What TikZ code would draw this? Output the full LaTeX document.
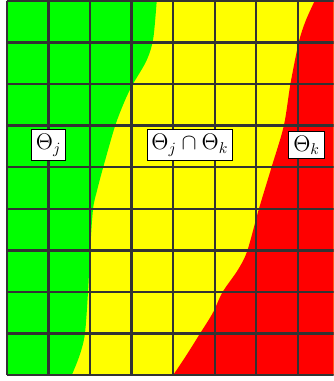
\documentclass[tikz,border=0pt]{standalone}

\definecolor{regj}{RGB}{0, 255, 0}
\definecolor{regjk}{RGB}{255, 255, 0}
\definecolor{regk}{RGB}{255, 0, 0}
\definecolor{gridedge}{RGB}{51, 51, 51}

\begin{document}
\begin{tikzpicture}[font=\Large,
    lbl/.style={draw=black, fill=white, line width=0.65pt, inner sep=2.8pt, scale=1.07}]
        \def\R{9}
        \def\C{8}
        \useasboundingbox (-0.168,-0.144) rectangle (7.861,9.024);
        \clip (-0.168,-0.144) rectangle (7.861,9.024);

        % Regions
        \fill[regjk] (0,0) rectangle (\C,\R);
        \fill[regj] (0,0) -- plot[smooth] coordinates {(1.56,0) (1.75,0.48) (1.875,0.99) (1.95,2.0) (2.0,2.98) (2.07,3.99) (2.17,4.45) (2.31,4.98) (2.60,5.99) (2.84,6.61) (3.03,7.0) (3.36,7.57) (3.52,8.1) (3.61,9.1)} -- (0,9.1) -- cycle;
        \fill[regk] (\C,0) -- plot[smooth] coordinates {(4.0,0) (4.32,0.48) (4.64,0.99) (4.95,1.49) (5.19,2.0) (5.55,2.52) (5.78,2.98) (6.06,3.99) (6.36,4.98) (6.66,5.99) (6.82,7.0) (7.02,8.0) (7.19,8.53) (7.45,9.1)} -- (\C,9.1) -- cycle;

        % Grid
        \draw[gridedge, line width=1.6pt] (0,0) grid (\C,\R);

        % Region labels
        \node[lbl] (thj) at (1,5.53) {$\Theta_j$};
        \node[lbl] (thjk) at (4.4,5.53) {$\Theta_j\cap\Theta_k$};
        \node[lbl] (thk) at (7.21,5.53) {$\Theta_k$};
      \end{tikzpicture}
\end{document}
